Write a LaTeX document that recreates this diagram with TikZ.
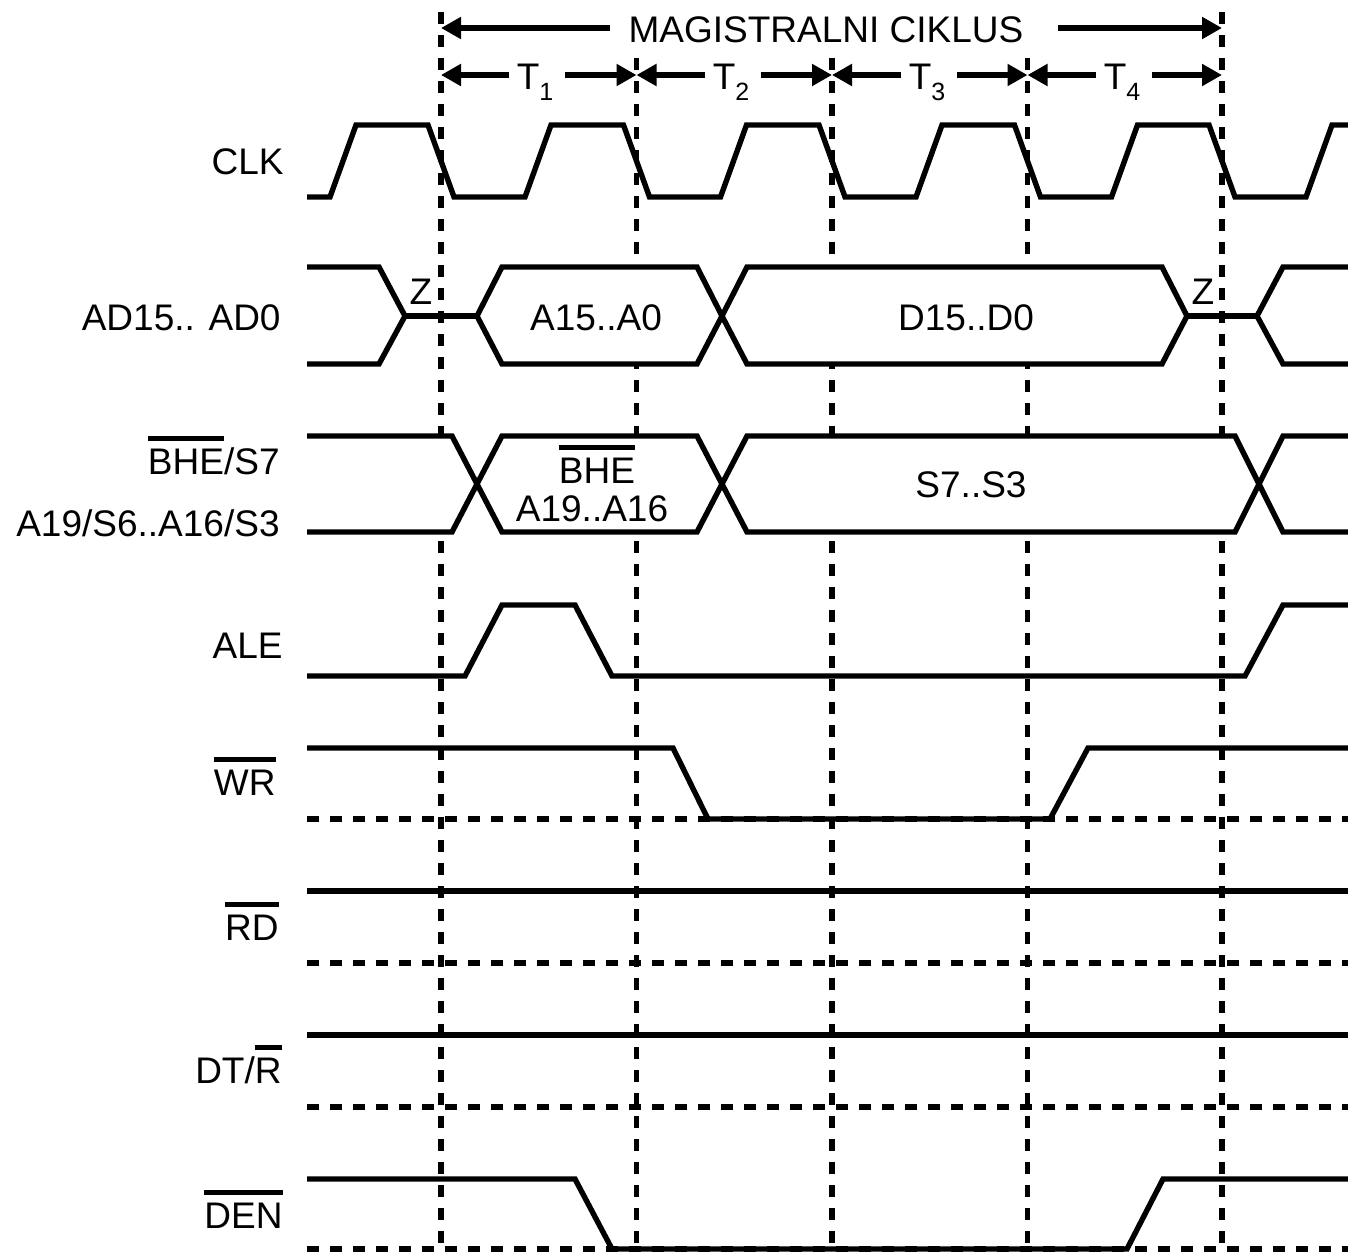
\documentclass[tikz,border=0pt]{standalone}
\usepackage{fontspec}
\setmainfont{Liberation Sans}
\usetikzlibrary{arrows.meta}
\newcommand{\barred}[1]{{\setbox0\hbox{#1}\rlap{\rule[0.88em]{\wd0}{0.15em}}\box0}}
\newcommand{\Tsub}[1]{T\raisebox{-0.32em}{\fontsize{12.5}{13}\selectfont #1}}

\begin{document}
\begin{tikzpicture}[x=0.5pt,y=-0.5pt,
	every node/.style={font=\fontsize{18.5}{22}\selectfont, inner sep=0pt},
	sig/.style={line width=2.7pt},
	bus/.style={sig, fill=white},
	grid/.style={line width=2.9pt, dash pattern=on 6pt off 5.5pt},
	lab/.style={anchor=base east},
	txt/.style={anchor=base},
	arr/.style={line width=2.7pt,-{Triangle[length=10pt,width=10.5pt]}}]
	\useasboundingbox (0,0) rectangle (1348,1253);
	
	% clock edges
	\foreach \d/\ys in {441/12, 636.5/58, 832/58, 1027.5/58, 1222/12}
		\draw[grid] (\d,\ys) -- (\d,1253);
	\coordinate (m0) at (441,28);
	\coordinate (m4) at (1222,28);
	\foreach \i/\d in {0/441, 1/636.5, 2/832, 3/1027.5, 4/1222}
		\coordinate (t\i) at (\d,75);
	
	\node[txt] (mc) at (826,42) {MAGISTRALNI CIKLUS};
	\draw[arr, shorten <=9pt] (mc.west |- m0) -- (m0);
	\draw[arr, shorten <=17pt] (mc.east |- m4) -- (m4);
	\foreach \i/\j/\x in {1/0/535, 2/1/731, 3/2/927, 4/3/1122} {
		\node[txt] (T\i) at (\x,89) {\Tsub{\i}};
		\draw[arr, shorten <=3.5pt] (T\i.west |- t\j) -- (t\j);
		\draw[arr, shorten <=5.5pt] (T\i.east |- t\i) -- (t\i);
	}
	
	% signal names
	\node[lab] (clk) at (284,174) {CLK};
	\node[lab] (ad) at (281,330) {AD15.. AD0};
	\node[lab] (bhe) at (280,474) {\barred{BHE}/S7};
	\node[lab] (as) at (280,536) {A19/S6..A16/S3};
	\node[lab] (ale) at (283,658) {ALE};
	\node[lab] (wr) at (276,795) {\barred{WR}};
	\node[lab] (rd) at (279,940) {\barred{RD}};
	\node[lab] (dtr) at (282,1083) {DT/\barred{R}};
	\node[lab] (den) at (283,1228) {\barred{DEN}};
	
	% CLK
	\draw[sig] (307,197) -- (330,197) -- (356,125)
		\foreach \d in {441, 636.5, 832, 1027.5, 1222} {
			-- (\d-13,125) -- (\d+13,197) -- (\d+84,197) -- (\d+110,125)
		} -- (1348,125);
	
	% AD15..AD0
	\draw[bus] (307,267) -- (379,267) -- (405,316) -- (379,364) -- (307,364);
	\draw[sig] (405,316) -- (477,316);
	\draw[bus] (477,316) -- (502,267) -- (697,267) -- (722,316) -- (697,364) -- (502,364) -- cycle;
	\draw[bus] (722,316) -- (747,267) -- (1162,267) -- (1187,316) -- (1162,364) -- (747,364) -- cycle;
	\draw[sig] (1187,316) -- (1257,316);
	\draw[bus] (1348,267) -- (1283,267) -- (1257,316) -- (1283,364) -- (1348,364);
	\node[txt] (z1) at (421,304) {Z};
	\node[txt] (z2) at (1203,304) {Z};
	\node[txt] (adr) at (596,330) {A15..A0};
	\node[txt] (dat) at (966,330) {D15..D0};
	
	% BHE/S7, A19/S6..A16/S3
	\draw[bus] (307,436) -- (452,436) -- (477,484) -- (452,532) -- (307,532);
	\draw[bus] (477,484) -- (502,436) -- (697,436) -- (722,484) -- (697,532) -- (502,532) -- cycle;
	\draw[bus] (722,484) -- (747,436) -- (1235,436) -- (1259,484) -- (1235,532) -- (747,532) -- cycle;
	\draw[bus] (1348,436) -- (1283,436) -- (1259,484) -- (1283,532) -- (1348,532);
	\node[txt] (bh) at (597,483) {\barred{BHE}};
	\node[txt] (ahi) at (592,521) {A19..A16};
	\node[txt] (st) at (971,497) {S7..S3};
	
	% ALE
	\draw[sig] (307,676) -- (465,676) -- (502,605) -- (575,605) -- (612,676)
		-- (1245,676) -- (1283,605) -- (1348,605);
	
	% WR
	\draw[grid] (307,819) -- (1348,819);
	\draw[sig] (307,748) -- (673,748) -- (708,819) -- (1050,819) -- (1088,748) -- (1348,748);
	
	% RD
	\draw[sig] (307,891) -- (1348,891);
	\draw[grid] (307,963) -- (1348,963);
	
	% DT/R
	\draw[sig] (307,1035) -- (1348,1035);
	\draw[grid] (307,1107) -- (1348,1107);
	
	% DEN
	\draw[grid] (307,1249) -- (1348,1249);
	\draw[sig] (307,1179) -- (575,1179) -- (612,1249) -- (1127,1249) -- (1163,1179) -- (1348,1179);
\end{tikzpicture}
\end{document}
